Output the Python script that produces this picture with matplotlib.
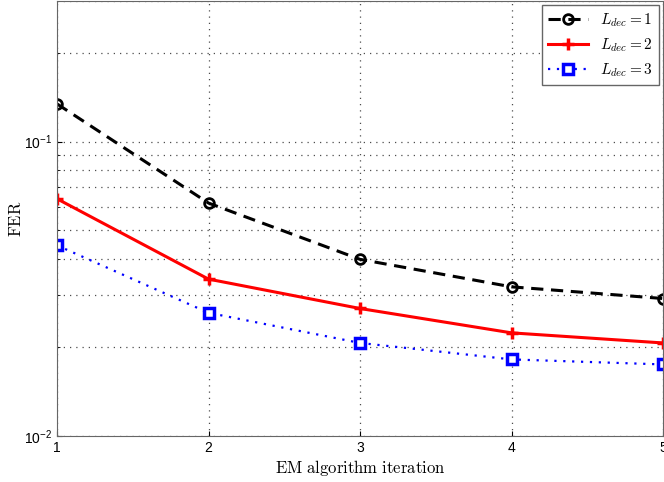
import matplotlib
matplotlib.use('Agg')
import matplotlib.pyplot as plt
from matplotlib.font_manager import FontProperties
from matplotlib.ticker import LogLocator, NullFormatter

plt.rcParams['font.family'] = ['Liberation Sans', 'DejaVu Sans']

# data
iterations = [1, 2, 3, 4, 5]
fer_dec1 = [0.1342, 0.0618, 0.0398, 0.0321, 0.0293]
fer_dec2 = [0.0639, 0.0341, 0.0271, 0.0224, 0.0207]
fer_dec3 = [0.0444, 0.0262, 0.0207, 0.0182, 0.0175]
labels = [r'$L_{dec} = 1$', r'$L_{dec} = 2$', r'$L_{dec} = 3$']

fig = plt.figure(figsize=(6.64, 4.82), dpi=100)
ax = fig.add_axes([57 / 664, 46 / 482, 606 / 664, 435 / 482])

ax.semilogy(iterations, fer_dec1, 'k--o', lw=2.2, ms=7, mew=2,
            mfc='none', dashes=(4, 2.5), label=labels[0])
ax.semilogy(iterations, fer_dec2, 'r-+', lw=2.2, ms=8, mew=2.5,
            label=labels[1])
ax.semilogy(iterations, fer_dec3, ls=(0, (1, 3)), marker='s', color='blue',
            lw=1.6, ms=7, mew=2.5, mfc='white', label=labels[2])

ax.set_xlim(1, 5)
ax.set_ylim(0.01, 0.3)
ax.set_xticks(iterations)
ax.yaxis.set_major_locator(LogLocator(base=10))
ax.yaxis.set_minor_locator(LogLocator(base=10, subs=range(2, 10)))
ax.yaxis.set_minor_formatter(NullFormatter())

grid_style = dict(linestyle=(0, (1, 4)), color='0.3', lw=0.9)
ax.grid(True, which='major', **grid_style)
ax.grid(True, which='minor', axis='y', **grid_style)
ax.tick_params(which='both', direction='in', labelsize=10)
ax.tick_params(which='minor', length=2)
for s in ax.spines.values():
    s.set_color('0.4')

cm_label = FontProperties(family='serif', size=12, math_fontfamily='cm')
ax.set_xlabel(r'$\mathrm{EM\ algorithm\ iteration}$', fontproperties=cm_label,
              labelpad=2)
ax.set_ylabel(r'$\mathrm{FER}$', fontproperties=cm_label)
ax.yaxis.set_label_coords(-0.052, 0.5)

leg = ax.legend(loc='upper right', fancybox=False, handlelength=2.6,
                borderaxespad=0.25, framealpha=1,
                prop=FontProperties(size=11, math_fontfamily='cm'))
leg.get_frame().set_edgecolor('0.4')

fig.savefig('out.png', dpi=100)
